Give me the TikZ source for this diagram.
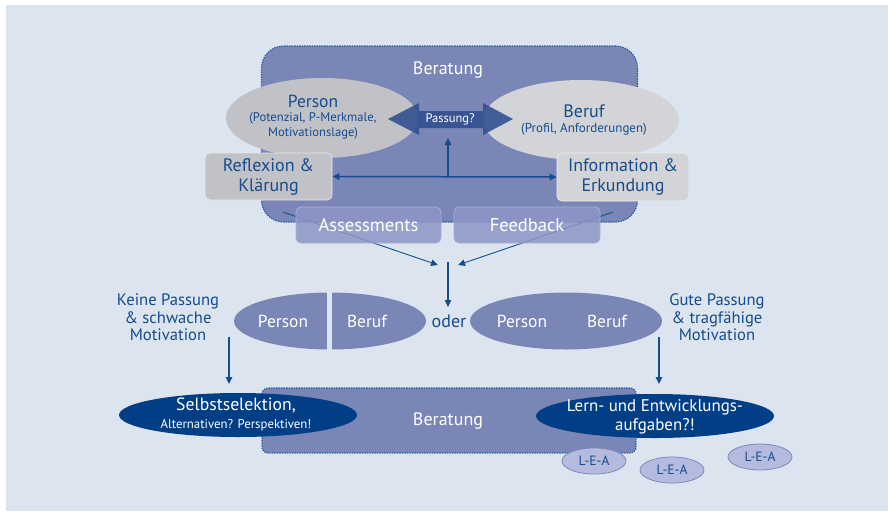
\documentclass[tikz,border=0pt]{standalone}
\usepackage{fontspec}
\setmainfont{PT Sans}
\usetikzlibrary{arrows.meta,shapes.geometric}
\definecolor{bgblue}{HTML}{DCE5EF}
\definecolor{berblue}{HTML}{7A86B6}
\definecolor{dotblue}{HTML}{1E5AA8}
\definecolor{dblue}{HTML}{164B8C}
\definecolor{navy}{HTML}{003F86}
\definecolor{passblue}{HTML}{2F4E8E}
\definecolor{greyA}{HTML}{C1C2C7}
\definecolor{greyB}{HTML}{D3D4D8}
\definecolor{boxblue}{HTML}{8D96C6}
\definecolor{boxedge}{HTML}{A8AFD6}
\definecolor{leafill}{HTML}{B5BBDE}
\definecolor{leaedge}{HTML}{7F89BC}
\newcommand{\fsz}[2]{\fontsize{#1}{#2}\selectfont}
\begin{document}
\begin{tikzpicture}[x=1pt,y=-1pt,
  every node/.style={inner sep=0pt,align=center},
  tip/.style={-{Triangle[length=7pt,width=6.5pt]}},
  conn/.style={draw=dblue,line width=1.5pt,tip},
  thinconn/.style={draw=dblue,line width=0.9pt,tip},
  berbox/.style={fill=berblue,draw=dotblue,dash pattern=on 1.3pt off 1.2pt,line width=1.2pt},
  greybox/.style={rounded corners=5pt,draw=white!60!#1,line width=0.8pt,fill=#1,text=dblue,font=\fsz{18}{20}},
  bluebox/.style={rounded corners=5pt,draw=boxedge,line width=0.8pt,fill=boxblue,fill opacity=0.85,text opacity=1,text=white,font=\fsz{18.5}{20},minimum height=36pt},
  midell/.style={ellipse,fill=berblue,minimum width=192pt,minimum height=57pt},
  navyell/.style={ellipse,fill=navy,minimum width=238pt,minimum height=44pt},
  lea/.style={ellipse,fill=leafill,draw=leaedge,line width=0.8pt,minimum width=64pt,minimum height=26pt,text=dblue,font=\fsz{13.5}{14}},
  dtext/.style={text=dblue},
  wtext/.style={text=white}
]
\useasboundingbox (0,0) rectangle (888,512);
\fill[white] (0,0) rectangle (888,512);
\fill[bgblue] (6,5) rectangle (888,511);

% top Beratung box
\node[berbox,rounded corners=22pt,minimum width=376pt,minimum height=176pt] (ber1) at (449.5,134) {};
\node[wtext,font=\fsz{18}{20}] (ber1t) at (448,70) {Beratung};

% ellipses
\node[ellipse,fill=greyA,minimum width=192pt,minimum height=80pt] (person) at (322,118) {};
\node[ellipse,fill=greyB,minimum width=196pt,minimum height=80pt] (beruf) at (581,120) {};
\node[dtext,font=\fsz{17.5}{18}] (persont) at (313,101) {Person};
\node[dtext,font=\fsz{12.6}{15}] (persons) at (313,125.5) {(Potenzial, P-Merkmale,\\Motivationslage)};
\node[dtext,font=\fsz{18}{18}] (beruft) at (584,111) {Beruf};
\node[dtext,font=\fsz{13}{15}] (berufs) at (584,129) {(Profil, Anforderungen)};

% Passung double arrow
\fill[passblue,opacity=0.88] (388,119) -- (419,103) -- (419,111) -- (483,111) -- (483,103) -- (513,119) -- (483,135) -- (483,128) -- (419,128) -- (419,135) -- cycle;
\node[wtext,font=\fsz{12.5}{14}] (pass) at (450,119) {Passung?};

% grey boxes
\node[greybox=greyA,minimum width=127pt,minimum height=47pt] (refl) at (268.5,176.5) {Reflexion \&\\Klärung};
\node[greybox=greyB,minimum width=132pt,minimum height=48pt] (info) at (623,177) {Information \&\\Erkundung};

\draw[draw=dblue,line width=1.5pt,{Triangle[length=7pt,width=6.5pt]}-{Triangle[length=7pt,width=6.5pt]}] (refl.east) -- (info.west);
\coordinate (junc) at (448,177);
\coordinate (passtip) at (448,138);
\draw[conn] (junc) -- (passtip);

% crossing lines
\coordinate (la) at (283,212);
\coordinate (lb) at (438,265);
\coordinate (ra) at (613,212);
\coordinate (rb) at (458,265);
\draw[thinconn] (la) -- (lb);
\draw[thinconn] (ra) -- (rb);

% Assessments / Feedback
\node[bluebox,minimum width=145pt] (assess) at (368.5,225) {Assessments};
\node[bluebox,minimum width=146pt] (feed) at (527,225) {Feedback};

% down arrow
\coordinate (m1) at (448,262);
\coordinate (m2) at (448,307);
\draw[conn] (m1) -- (m2);

% middle row
\node[dtext,font=\fsz{16.6}{17.5}] (keine) at (168,317.5) {Keine Passung\\\& schwache\\Motivation};
\node[dtext,font=\fsz{16.6}{17.5}] (gute) at (717,317.5) {Gute Passung\\\& tragfähige\\Motivation};
\node[midell] (mell1) at (330,321) {};
\fill[bgblue] (326.5,290) rectangle (331.5,353);
\node[wtext,font=\fsz{17.4}{18}] (p1) at (283,321) {Person};
\node[wtext,font=\fsz{17.4}{18}] (b1) at (367,321) {Beruf};
\node[dtext,font=\fsz{18}{18}] (oder) at (449,321) {oder};
\node[midell] (mell2) at (566,321) {};
\node[wtext,font=\fsz{17.4}{18}] (p2) at (522,321) {Person};
\node[wtext,font=\fsz{17.4}{18}] (b2) at (607,321) {Beruf};

\coordinate (la1) at (229,337);
\coordinate (la2) at (229,384);
\coordinate (ra1) at (659,337);
\coordinate (ra2) at (659,384);
\draw[conn] (la1) -- (la2);
\draw[conn] (ra1) -- (ra2);

% bottom Beratung
\node[berbox,rounded corners=6pt,minimum width=374pt,minimum height=65pt] (ber2) at (449,420.5) {};
\node[wtext,font=\fsz{18}{18}] (ber2t) at (448,421) {Beratung};
\node[navyell] (selbst) at (238,415) {};
\node[wtext,font=\fsz{17.7}{18}] (selbstt) at (236,406) {Selbstselektion,};
\node[wtext,font=\fsz{12.8}{14}] (selbsts) at (236,425) {Alternativen? Perspektiven!};
\node[navyell] (lern) at (655,416) {};
\node[wtext,font=\fsz{16.9}{19}] (lernt) at (655,416.5) {Lern- und Entwicklungs-\\aufgaben?!};

\node[lea] (lea1) at (594,461) {L-E-A};
\node[lea] (lea2) at (672,470) {L-E-A};
\node[lea] (lea3) at (760,457) {L-E-A};
\end{tikzpicture}
\end{document}
